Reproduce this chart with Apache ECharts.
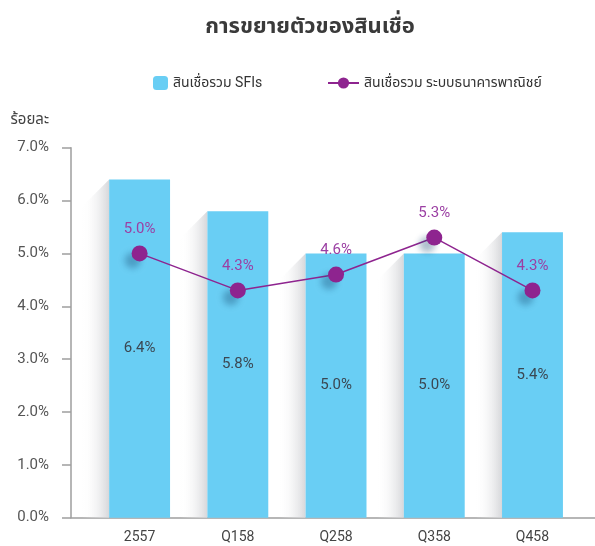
<!DOCTYPE html>
<html>
<head>
<meta charset="utf-8">
<script src="https://cdn.jsdelivr.net/npm/echarts@6/dist/echarts.min.js"></script>
<style>
  html, body { margin: 0; padding: 0; background: #fff; }
  #chart { width: 595px; height: 546px; }
</style>
</head>
<body>
<div id="chart"></div>
<script>
// ข้อมูล
var categories = ['2557', 'Q158', 'Q258', 'Q358', 'Q458'];
var sfiValues = [6.4, 5.8, 5.0, 5.0, 5.4];
var bankValues = [5.0, 4.3, 4.6, 5.3, 4.3];
var sfiName = 'สินเชื่อรวม SFIs';
var bankName = 'สินเชื่อรวม ระบบธนาคารพาณิชย์';

var FONT = 'Roboto, "Noto Sans Thai", "Noto Sans", sans-serif';
var BAR_RATIO = 0.62;

var chart = echarts.init(document.getElementById('chart'));

// เงาด้านซ้ายของแท่ง
function renderShadow(params, api) {
    var top = api.coord([api.value(0), api.value(1)]);
    var base = api.coord([api.value(0), 0]);
    var bw = api.size([1, 0])[0] * BAR_RATIO;
    var left = top[0] - bw / 2;
    var w = 27;
    return {
        type: 'polygon',
        shape: {
            points: [[left, top[1]], [left - w, top[1] + w], [left - w, base[1]], [left, base[1]]]
        },
        style: {
            fill: new echarts.graphic.LinearGradient(0, 0, 1, 0, [
                { offset: 0, color: 'rgba(255,255,255,0)' },
                { offset: 1, color: '#d6d7da' }
            ])
        }
    };
}

var option = {
    textStyle: { fontFamily: FONT },
    title: {
        text: 'การขยายตัวของสินเชื่อ',
        left: 305,
        textAlign: 'center',
        top: 11,
        textStyle: { fontSize: 22, fontWeight: 'bold', color: '#3a3a3a', fontFamily: FONT }
    },
    legend: [{
        data: [sfiName],
        left: 148,
        top: 71,
        itemWidth: 15,
        itemHeight: 14,
        textStyle: { fontSize: 14, color: '#333', fontFamily: FONT }
    }, {
        data: [bankName],
        left: 322,
        top: 71,
        itemWidth: 31,
        itemHeight: 14,
        textStyle: { fontSize: 14, color: '#333', fontFamily: FONT }
    }],
    grid: [
        { left: 90.5, right: 13.4, top: 147.7, bottom: 28.3 },
        { left: 71, right: 0, top: 147.7, bottom: 28.3 }
    ],
    xAxis: [{
        type: 'category',
        gridIndex: 0,
        data: categories,
        axisLine: { show: false },
        axisTick: { show: false },
        axisLabel: { fontSize: 14, color: '#444', margin: 13, fontFamily: FONT }
    }, {
        type: 'value',
        gridIndex: 1,
        min: 0,
        max: 1,
        axisLine: { show: true, lineStyle: { color: '#9e9e9e', width: 1.5 } },
        axisTick: { show: false },
        axisLabel: { show: false },
        splitLine: { show: false }
    }],
    yAxis: [{
        type: 'value',
        gridIndex: 0,
        min: 0,
        max: 7,
        interval: 1,
        show: false
    }, {
        type: 'value',
        gridIndex: 1,
        min: 0,
        max: 7,
        interval: 1,
        name: 'ร้อยละ',
        nameLocation: 'end',
        nameGap: 20,
        nameTextStyle: { fontSize: 15, color: '#444', align: 'right', padding: [0, 22, 0, 0], fontFamily: FONT },
        axisLine: { show: true, lineStyle: { color: '#9e9e9e', width: 1.5 } },
        axisTick: { show: true, length: 9, lineStyle: { color: '#9e9e9e', width: 1.5 } },
        axisLabel: {
            fontSize: 15,
            color: '#555',
            margin: 22,
            fontFamily: FONT,
            formatter: function(v) { return v.toFixed(1) + '%'; }
        },
        splitLine: { show: false }
    }],
    series: [{
        type: 'custom',
        xAxisIndex: 0,
        yAxisIndex: 0,
        renderItem: renderShadow,
        data: sfiValues.map(function(v, i) { return [i, v]; }),
        z: 1,
        silent: true
    }, {
        name: sfiName,
        type: 'bar',
        xAxisIndex: 0,
        yAxisIndex: 0,
        data: sfiValues,
        barWidth: (BAR_RATIO * 100) + '%',
        itemStyle: { color: '#69cef4' },
        label: {
            show: true,
            position: 'inside',
            fontSize: 15,
            color: '#3b4752',
            fontFamily: FONT,
            formatter: function(p) { return p.value.toFixed(1) + '%'; }
        },
        z: 2
    }, {
        name: bankName,
        type: 'line',
        xAxisIndex: 0,
        yAxisIndex: 0,
        data: bankValues,
        symbol: 'circle',
        symbolSize: 16,
        lineStyle: { color: '#8e248f', width: 1.5 },
        itemStyle: {
            color: '#8e248f',
            shadowColor: 'rgba(20,70,110,0.35)',
            shadowBlur: 6,
            shadowOffsetX: -7,
            shadowOffsetY: 7
        },
        label: {
            show: true,
            position: 'top',
            distance: 9,
            fontSize: 15,
            color: '#9b3fa3',
            fontFamily: FONT,
            formatter: function(p) { return p.value.toFixed(1) + '%'; }
        },
        z: 3
    }]
};

chart.setOption(option);
</script>
</body>
</html>
